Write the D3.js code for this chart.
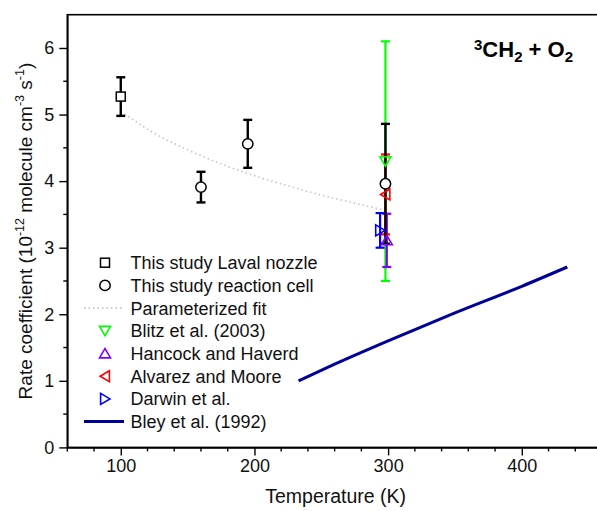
<!DOCTYPE html>
<html><head><meta charset="utf-8">
<script src="https://cdn.jsdelivr.net/npm/d3@7/dist/d3.min.js"></script>
<style>body{margin:0;background:#fff}svg{display:block;font-family:"Liberation Sans",Arial,sans-serif}</style>
</head><body><div id="chart"></div>
<script>
// ---- data ----
const lavalT = [100], lavalK = [5.27], lavalErr = [0.29];
const cellT = [160, 195, 298], cellK = [3.91, 4.56, 3.96], cellErr = [0.23, 0.36, 0.90];
const fitT = [100, 125, 150, 175, 200, 225, 250, 275, 298];
const fitK = [5.05, 4.72, 4.47, 4.26, 4.08, 3.93, 3.79, 3.67, 3.56];
const blitzT = [298], blitzK = [4.30], blitzErr = [1.80];
const hancockT = [299], hancockK = [3.11], hancockErr = [0.40];
const alvarezT = [298], alvarezK = [3.80], alvarezErr = [0.60];
const darwinT = [294], darwinK = [3.26], darwinErr = [0.26];
const bleyT = [233, 260, 300, 350, 400, 434];
const bleyK = [1.00, 1.25, 1.60, 2.02, 2.42, 2.71];
const xTicks = [100, 200, 300, 400];
const yTicks = [0, 1, 2, 3, 4, 5, 6];
const legendLabels = ["This study Laval nozzle", "This study reaction cell", "Parameterized fit",
  "Blitz et al. (2003)", "Hancock and Haverd", "Alvarez and Moore", "Darwin et al.", "Bley et al. (1992)"];

// ---- layout ----
const W = 597, H = 511;
const x = d3.scaleLinear().domain([60, 460]).range([67.3, 602]);
const y = d3.scaleLinear().domain([0, 6.5]).range([447.4, 14.7]);
const svg = d3.select("#chart").append("svg").attr("width", W).attr("height", H);

// frame
svg.append("rect").attr("x", x(60)).attr("y", y(6.5)).attr("width", x(460) - x(60)).attr("height", y(0) - y(6.5))
  .attr("fill", "none").attr("stroke", "#000").attr("stroke-width", 1.6);

// axes
const xAxis = d3.axisBottom(x).tickValues(xTicks).tickFormat(d3.format("d")).tickSize(8).tickSizeOuter(0).tickPadding(4);
const gx = svg.append("g").attr("transform", `translate(0,${y(0)})`).call(xAxis);
gx.append("g").selectAll("line").data(d3.range(60, 461, 20).filter(v => v % 100 !== 0)).join("line")
  .attr("x1", d => x(d)).attr("x2", d => x(d)).attr("y1", 0).attr("y2", 4).attr("stroke", "#000").attr("stroke-width", 1.4);
const yAxis = d3.axisLeft(y).tickValues(yTicks).tickFormat(d3.format("d")).tickSize(8).tickSizeOuter(0).tickPadding(5);
const gy = svg.append("g").attr("transform", `translate(${x(60)},0)`).call(yAxis);
gy.append("g").selectAll("line").data(d3.range(0.5, 6.5, 1)).join("line")
  .attr("y1", d => y(d)).attr("y2", d => y(d)).attr("x1", 0).attr("x2", -4).attr("stroke", "#000").attr("stroke-width", 1.4);
[gx, gy].forEach(g => {
  g.select(".domain").attr("stroke-width", 1.6);
  g.selectAll(".tick line").attr("stroke-width", 1.4);
  g.selectAll(".tick text").attr("font-size", 18).attr("fill", "#111").attr("font-family", "Liberation Sans, Arial, sans-serif");
});

// axis titles
svg.append("text").attr("x", (x(60) + x(460)) / 2 + 1).attr("y", 503).attr("text-anchor", "middle")
  .attr("font-size", 19.5).attr("fill", "#111").text("Temperature (K)");
const yt = svg.append("text").attr("transform", `translate(32,${(y(0) + y(6.5)) / 2}) rotate(-90)`)
  .attr("text-anchor", "middle").attr("font-size", 19).attr("fill", "#111");
yt.append("tspan").text("Rate coefficient (10");
yt.append("tspan").attr("font-size", 12.5).attr("dy", -8).text("-12");
yt.append("tspan").attr("dy", 8).text(" molecule cm");
yt.append("tspan").attr("font-size", 12.5).attr("dy", -8).text("-3");
yt.append("tspan").attr("dy", 8).text(" s");
yt.append("tspan").attr("font-size", 12.5).attr("dy", -8).text("-1");
yt.append("tspan").attr("dy", 8).text(")");

// reaction title
const tt = svg.append("text").attr("x", 474).attr("y", 57).attr("font-size", 22).attr("font-weight", "bold").attr("fill", "#000");
tt.append("tspan").attr("font-size", 15).attr("dy", -7.5).text("3");
tt.append("tspan").attr("dy", 7.5).text("CH");
tt.append("tspan").attr("font-size", 15).attr("dy", 5).text("2");
tt.append("tspan").attr("dy", -5).text(" + O");
tt.append("tspan").attr("font-size", 15).attr("dy", 5).text("2");

// fit line
const line = d3.line().x(d => x(d[0])).y(d => y(d[1])).curve(d3.curveMonotoneX);
svg.append("path").datum(fitT.map((t, i) => [t, fitK[i]])).attr("d", line)
  .attr("fill", "none").attr("stroke", "#c4c4c4").attr("stroke-width", 1.6).attr("stroke-dasharray", "1.5,3");

// Bley line
svg.append("path").datum(bleyT.map((t, i) => [t, bleyK[i]])).attr("d", line)
  .attr("fill", "none").attr("stroke", "#000096").attr("stroke-width", 3);

// symbol helpers
function tri(dir, s) {
  const h = s / 2;
  if (dir === "down") return `M${-h},${-h * 0.8}L${h},${-h * 0.8}L0,${h * 0.9}Z`;
  if (dir === "up") return `M${-h},${h * 0.8}L${h},${h * 0.8}L0,${-h * 0.9}Z`;
  if (dir === "left") return `M${h * 0.8},${-h}L${h * 0.8},${h}L${-h * 0.9},0Z`;
  return `M${-h * 0.8},${-h}L${-h * 0.8},${h}L${h * 0.9},0Z`;
}
function errbar(T, K, E, color, w) {
  const g = svg.append("g").attr("stroke", color).attr("stroke-width", w);
  T.forEach((t, i) => {
    g.append("line").attr("x1", x(t)).attr("x2", x(t)).attr("y1", y(K[i] + E[i])).attr("y2", y(K[i] - E[i]));
    [K[i] + E[i], K[i] - E[i]].forEach(v => g.append("line").attr("x1", x(t) - 4.5).attr("x2", x(t) + 4.5).attr("y1", y(v)).attr("y2", y(v)));
  });
}
function triMarks(T, K, dir, color) {
  T.forEach((t, i) => svg.append("path").attr("d", tri(dir, 11)).attr("transform", `translate(${x(t)},${y(K[i])})`)
    .attr("fill", "none").attr("stroke", color).attr("stroke-width", 1.6));
}

errbar(blitzT, blitzK, blitzErr, "#00ff00", 2.2);
errbar(hancockT, hancockK, hancockErr, "#8000ff", 2.2);
errbar(alvarezT, alvarezK, alvarezErr, "#ff0000", 2.2);
errbar(darwinT, darwinK, darwinErr, "#0000ff", 2.2);
errbar(lavalT, lavalK, lavalErr, "#000", 2.4);
errbar(cellT, cellK, cellErr, "#000", 2.4);

triMarks(blitzT, blitzK, "down", "#00ff00");
triMarks(alvarezT, alvarezK, "left", "#ff0000");
triMarks(darwinT, darwinK, "right", "#0000ff");
triMarks(hancockT, hancockK, "up", "#8000ff");

lavalT.forEach((t, i) => svg.append("rect").attr("x", x(t) - 4.5).attr("y", y(lavalK[i]) - 4.5).attr("width", 9).attr("height", 9)
  .attr("fill", "#fff").attr("stroke", "#000").attr("stroke-width", 1.5));
cellT.forEach((t, i) => svg.append("circle").attr("cx", x(t)).attr("cy", y(cellK[i])).attr("r", 5.2)
  .attr("fill", "#fff").attr("stroke", "#000").attr("stroke-width", 1.5));

// legend
const lg = svg.append("g");
const lx = 105, ly0 = 262.7, dy = 22.7;
legendLabels.forEach((lab, i) => {
  const cy = ly0 + i * dy;
  lg.append("text").attr("x", 130.5).attr("y", cy + 6.5).attr("font-size", 18).attr("fill", "#111").text(lab);
  if (i === 0) lg.append("rect").attr("x", lx - 4.5).attr("y", cy - 4.5).attr("width", 9).attr("height", 9).attr("fill", "#fff").attr("stroke", "#000").attr("stroke-width", 1.5);
  if (i === 1) lg.append("circle").attr("cx", lx).attr("cy", cy).attr("r", 5.2).attr("fill", "#fff").attr("stroke", "#000").attr("stroke-width", 1.5);
  if (i === 2) lg.append("line").attr("x1", 84).attr("x2", 124).attr("y1", cy).attr("y2", cy).attr("stroke", "#c4c4c4").attr("stroke-width", 1.6).attr("stroke-dasharray", "1.5,3");
  const triDef = { 3: ["down", "#00ff00"], 4: ["up", "#8000ff"], 5: ["left", "#ff0000"], 6: ["right", "#0000ff"] }[i];
  if (triDef) lg.append("path").attr("d", tri(triDef[0], 11)).attr("transform", `translate(${lx},${cy})`).attr("fill", "none").attr("stroke", triDef[1]).attr("stroke-width", 1.6);
  if (i === 7) lg.append("line").attr("x1", 84).attr("x2", 124).attr("y1", cy).attr("y2", cy).attr("stroke", "#000096").attr("stroke-width", 3);
});
</script>
</body></html>
